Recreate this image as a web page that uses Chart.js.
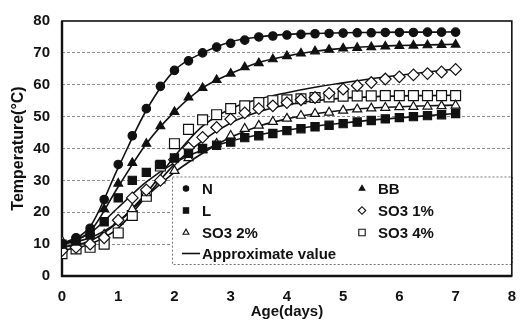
<!DOCTYPE html>
<html>
<head>
<meta charset="utf-8">
<script src="https://cdn.jsdelivr.net/npm/chart.js"></script>
<style>
  body { margin: 0; background: #fff; }
  #wrap { width: 528px; height: 324px; }
</style>
</head>
<body>
<div id="wrap"><canvas id="curve" width="528" height="324"></canvas></div>
<script>
// idade em dias de cada leitura
const days = [0, 0.25, 0.5, 0.75, 1, 1.25, 1.5, 1.75, 2, 2.25, 2.5, 2.75, 3, 3.25, 3.5, 3.75,
              4, 4.25, 4.5, 4.75, 5, 5.25, 5.5, 5.75, 6, 6.25, 6.5, 6.75, 7];

// temperaturas medidas (°C)
const tempN   = [10, 12, 15, 24, 35, 44, 52.5, 59.5, 64.5, 67.5, 70, 71.8, 73, 74, 75, 75.3,
                 75.6, 75.8, 76, 76.1, 76.2, 76.3, 76.3, 76.4, 76.4, 76.4, 76.5, 76.5, 76.5];
const tempBB  = [10, 11.5, 14, 21, 29, 35.5, 41.5, 47, 51.5, 56, 59, 61.5, 63.5, 65.5, 66.8, 68,
                 69, 69.8, 70.5, 71, 71.4, 71.6, 71.8, 72, 72.2, 72.3, 72.4, 72.5, 72.6];
const tempL   = [10, 11, 13, 17, 24.5, 30, 32.5, 35, 37, 38.5, 40, 41, 42, 43.4, 44, 44.7,
                 45.6, 46.2, 46.8, 47.3, 47.8, 48.3, 48.8, 49.3, 49.7, 50, 50.3, 50.6, 51];
const tempS1  = [8, 9, 10, 12, 17.5, 24.5, 27, 30, 36.5, 40.2, 43.5, 46.6, 49.2, 51.2, 52.5, 53.4,
                 54.4, 55.3, 56, 57.3, 58.6, 59.7, 60.7, 61.8, 62.5, 63.1, 63.5, 64, 64.8];
const tempS2  = [11, 10, 11, 13, 17, 21, 26, 30, 33, 37, 39.5, 41.5, 44, 46.2, 47.2, 48.4,
                 49.4, 50.3, 50.9, 51.3, 51.9, 52.3, 52.6, 52.8, 53, 53.1, 53.2, 53.3, 53.5];
const tempS4  = [7, 8.5, 9, 10, 13.5, 19, 25, 34.5, 41.5, 46, 49, 50.6, 52.5, 53.4, 54.4, 55,
                 55.3, 55.6, 56, 56.2, 56.4, 56.5, 56.5, 56.6, 56.6, 56.6, 56.6, 56.6, 56.6];

// curvas aproximadas, lidas de meio em meio dia
const fitDays = [0, 0.5, 1, 1.5, 2, 2.5, 3, 3.5, 4, 4.5, 5, 5.5, 6, 6.5, 7];
const fitN  = [10, 15.5, 34, 52, 64.5, 70, 73.5, 75, 75.8, 76.1, 76.3, 76.4, 76.5, 76.5, 76.6];
const fitBB = [10, 14, 28, 41.5, 51.5, 59, 63.5, 67, 69, 70.5, 71.4, 72, 72.3, 72.5, 72.7];
const fitL  = [10, 13.5, 21.5, 29.5, 35.5, 39.5, 42.3, 44.3, 45.8, 47, 48, 48.9, 49.6, 50.3, 51];
const fitS1 = [9, 11, 17, 26, 37.5, 47, 52.5, 55.5, 57.5, 59.2, 60.6, 61.9, 63, 64, 64.9];
const fitS2 = [10, 12, 17, 25, 32.5, 38.5, 43.5, 47, 49.3, 50.9, 52, 52.7, 53.1, 53.4, 53.6];
const fitS4 = [8, 10, 15, 25, 35, 42.5, 48, 51.5, 53.7, 55, 55.8, 56.2, 56.5, 56.6, 56.7];

const xTicks = [0, 1, 2, 3, 4, 5, 6, 7, 8];
const yTicks = [0, 10, 20, 30, 40, 50, 60, 70, 80];

const ink = '#111';
const font = 'Liberation Sans, Arial, sans-serif';

function pts(xs, ys) {
    return ys.map((y, i) => ({ x: xs[i], y: y }));
}

// series com marcadores
function marks(label, ys, style, radius, filled) {
    return {
        label: label,
        data: pts(days, ys),
        pointStyle: style,
        pointRadius: radius,
        pointBorderWidth: 1.2,
        pointBackgroundColor: filled ? ink : '#fff',
        pointBorderColor: ink,
        showLine: false,
        order: 1,
        inLegend: true
    };
}

// linha aproximada (sem marcadores)
function fit(ys) {
    return {
        label: 'Approximate value',
        data: pts(fitDays, ys),
        showLine: true,
        borderColor: ink,
        borderWidth: 1.6,
        pointRadius: 0,
        cubicInterpolationMode: 'monotone',
        order: 2
    };
}

const datasets = [
    fit(fitN), fit(fitBB), fit(fitL), fit(fitS1), fit(fitS2), fit(fitS4),
    marks('N', tempN, 'circle', 4.2, true),
    marks('BB', tempBB, 'triangle', 5, true),
    marks('L', tempL, 'rect', 5.8, true),
    marks('SO3 1%', tempS1, 'rectRot', 5.8, false),
    marks('SO3 2%', tempS2, 'triangle', 5.2, false),
    marks('SO3 4%', tempS4, 'rect', 7, false)
];

// legenda dentro da area do grafico, com caixa tracejada
const legendBox = {
    id: 'legendBox',
    beforeDatasetsDraw(chart) {
        const { ctx, chartArea: a } = chart;
        const left = a.left + 110, top = a.top + 155.5, right = a.right, bottom = a.top + 243;
        ctx.save();
        ctx.fillStyle = '#fff';
        ctx.fillRect(left, top, right - left, bottom - top);
        ctx.setLineDash([2, 2]);
        ctx.strokeStyle = '#777';
        ctx.lineWidth = 1;
        ctx.strokeRect(left + 0.5, top + 0.5, right - left, bottom - top);
        ctx.setLineDash([]);

        const items = chart.data.datasets.filter(d => d.inLegend);
        // N, BB / L, SO3 1% / SO3 2%, SO3 4%
        const spots = [[0, 0], [1, 0], [0, 1], [1, 1], [0, 2], [1, 2]];
        const colX = [left + 14, left + 190];
        const rowY = [top + 12, top + 34, top + 56, top + 77];
        ctx.font = 'bold 15px ' + font;
        ctx.textBaseline = 'middle';
        ctx.textAlign = 'left';
        const order = ['N', 'BB', 'L', 'SO3 1%', 'SO3 2%', 'SO3 4%'];
        order.forEach((name, i) => {
            const d = items.find(it => it.label === name);
            const [c, r] = spots[i];
            const mx = colX[c], my = rowY[r];
            ctx.fillStyle = d.pointBackgroundColor;
            ctx.strokeStyle = ink;
            ctx.lineWidth = 1.1;
            Chart.helpers.drawPoint(ctx, {
                pointStyle: d.pointStyle,
                radius: d.pointRadius * 0.65,
                rotation: 0,
                borderWidth: 1.1
            }, mx, my);
            ctx.fillStyle = ink;
            ctx.fillText(name, mx + 16, my + 1);
        });
        // linha da legenda "Approximate value"
        ctx.strokeStyle = ink;
        ctx.lineWidth = 1.6;
        ctx.beginPath();
        ctx.moveTo(colX[0] - 4, rowY[3]);
        ctx.lineTo(colX[0] + 14, rowY[3]);
        ctx.stroke();
        ctx.fillStyle = ink;
        ctx.fillText('Approximate value', colX[0] + 16, rowY[3] + 1);
        ctx.restore();
    }
};

// moldura preta da area do grafico
const frame = {
    id: 'frame',
    beforeDatasetsDraw(chart) {
        const { ctx, chartArea: a } = chart;
        ctx.save();
        ctx.strokeStyle = ink;
        ctx.lineWidth = 1.6;
        ctx.strokeRect(a.left, a.top, a.right - a.left, a.bottom - a.top);
        ctx.lineWidth = 2.4;
        ctx.beginPath();
        ctx.moveTo(a.left, a.top);
        ctx.lineTo(a.left, a.bottom);
        ctx.lineTo(a.right, a.bottom);
        ctx.stroke();
        ctx.restore();
    }
};

new Chart(document.getElementById('curve'), {
    type: 'scatter',
    data: { datasets: datasets },
    options: {
        responsive: false,
        animation: false,
        devicePixelRatio: 1,
        layout: { padding: { top: 19, right: 6, left: 0, bottom: 0 } },
        plugins: {
            legend: { display: false },
            tooltip: { enabled: false }
        },
        scales: {
            x: {
                type: 'linear',
                min: xTicks[0],
                max: xTicks[xTicks.length - 1],
                afterBuildTicks: s => { s.ticks = xTicks.map(v => ({ value: v })); },
                ticks: { padding: 12, color: ink, font: { family: font, size: 15, weight: 'bold' } },
                grid: { display: false, drawTicks: false },
                border: { display: false },
                title: {
                    display: true, text: 'Age(days)', color: ink,
                    font: { family: font, size: 15, weight: 'bold' },
                    padding: { top: 0, bottom: 3 }
                },
                afterFit: s => { s.height = 48; }
            },
            y: {
                min: yTicks[0],
                max: yTicks[yTicks.length - 1],
                afterBuildTicks: s => { s.ticks = yTicks.map(v => ({ value: v })); },
                ticks: { padding: 12, color: ink, font: { family: font, size: 15, weight: 'bold' } },
                grid: {
                    drawTicks: false,
                    lineWidth: 1,
                    color: c => (c.tick.value > 0 && c.tick.value < 80) ? '#8c8c8c' : 'rgba(0,0,0,0)'
                },
                border: { display: false, dash: [3, 2] },
                title: {
                    display: true, text: 'Temperature(°C)', color: ink,
                    font: { family: font, size: 16, weight: 'bold' },
                    padding: { top: 9, bottom: 0 }
                },
                afterFit: s => { s.width = 62; }
            }
        }
    },
    plugins: [legendBox, frame]
});
</script>
</body>
</html>
